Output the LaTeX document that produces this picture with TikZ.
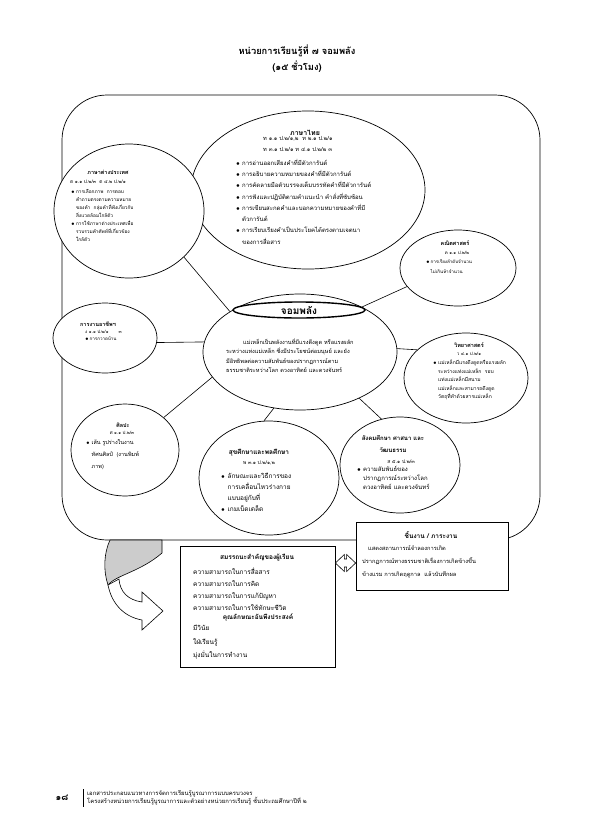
\documentclass[tikz,border=0pt]{standalone}
\usepackage{fontspec}
\newfontfamily\thfont[Script=Thai]{Loma}
\usetikzlibrary{shapes.geometric,calc}
\newcommand\tbul{\makebox[1em][l]{$\bullet$}}
\newcommand\tind{\hspace*{1em}}
\begin{document}
\begin{tikzpicture}[x=1pt,y=-1pt,
  ell/.style={draw,ellipse,fill=white,inner sep=0pt,line width=0.7pt},
  lnk/.style={line width=0.6pt},
  tx/.style 2 args={inner sep=0pt,align=left,font=\thfont\fontsize{#1}{#2}\selectfont},
  hd/.style={inner sep=0pt,align=center,font=\thfont\bfseries\fontsize{#1}{#1}\selectfont},
  cd/.style={inner sep=0pt,align=center,font=\thfont\fontsize{#1}{#1}\selectfont},
  box/.style={draw,fill=white,line width=0.7pt,inner sep=0pt},
]
\useasboundingbox (0,0) rectangle (595,836);
\fill[white] (0,0) rectangle (595,836);

% title
\node[hd=9.3] (title) at (297,51) {หน่วยการเรียนรู้ที่ ๗ จอมพลัง};
\node[hd=9.3] (title2) at (297,67) {(๑๕ ชั่วโมง)};

% frame
\draw[line width=0.7pt, rounded corners=45pt] (62,95) rectangle (540,540);

% ellipses
\node[ell, minimum width=234, minimum height=158] (thai) at (308,190) {};
\node[ell, minimum width=150, minimum height=134] (foreign) at (129,211) {};
\node[ell, minimum width=116, minimum height=76] (math) at (458,268) {};
\node[ell, minimum width=194, minimum height=116] (core) at (300,352) {};
\node[ell, minimum width=104, minimum height=70] (career) at (105,338) {};
\node[ell, minimum width=124, minimum height=90] (sci) at (466,378) {};
\node[ell, minimum width=108, minimum height=92] (art) at (125,450) {};
\node[ell, minimum width=140, minimum height=114] (health) at (269,478) {};
\node[ell, minimum width=120, minimum height=96] (social) at (400,465) {};
\node[ell, line width=1.4pt, minimum width=132, minimum height=16] (corehead) at (299,310) {};

% connectors
\draw[lnk] (core.150) -- (foreign.-40);
\draw[lnk] (core.36) -- (math.200);
\draw[lnk] (core.174) -- (career.-5);
\draw[lnk] (core.2) -- (sci.150);
\draw[lnk] (core.196) -- (art.40);
\draw[lnk] (core.245) -- (health.95);
\draw[lnk] (core.-38) -- (social.112);

% thai
\node[hd=7] (thaih) at (305,133) {ภาษาไทย};
\node[tx={5.6}{11}, anchor=north west] (thaic) at (263,136.5) {ท ๑.๑ ป.๒/๑,๒\ \ ท ๒.๑ ป.๒/๑\\ท ๓.๑ ป.๒/๑ ท ๔.๑ ป.๒/๒ ๓};
\node[tx={6}{11.3}, anchor=north west] (thaib) at (236,158.8) {\tbul การอ่านออกเสียงคำที่มีตัวการันต์\\
\tbul การอธิบายความหมายของคำที่มีตัวการันต์\\
\tbul การคัดลายมือตัวบรรจงเต็มบรรทัดคำที่มีตัวการันต์\\
\tbul การฟังและปฏิบัติตามคำแนะนำ คำสั่งที่ซับซ้อน\\
\tbul การเขียนสะกดคำและบอกความหมายของคำที่มี\\
\tind ตัวการันต์\\
\tbul การเรียบเรียงคำเป็นประโยคได้ตรงตามเจตนา\\
\tind ของการสื่อสาร};

% foreign
\node[hd=5.5] (forh) at (108,172) {ภาษาต่างประเทศ};
\node[tx={4.8}{8}, anchor=north west] (forc) at (70,180) {ต ๑.๑ ป.๒/๓\ \ ต ๔.๒ ป.๒/๑};
\node[tx={4.8}{8.1}, anchor=north west] (forb) at (71,189) {\tbul การเลือกภาพ\ \ การตอบ\\
\tind คำถามตรงตามความหมาย\\
\tind ของคำ\ \ กลุ่มคำที่ฟังเกี่ยวกับ\\
\tind สิ่งแวดล้อมใกล้ตัว\\
\tbul การใช้ภาษาต่างประเทศเพื่อ\\
\tind รวบรวมคำศัพท์ที่เกี่ยวข้อง\\
\tind ใกล้ตัว};

% math
\node[hd=5.5] (mathh) at (455,243) {คณิตศาสตร์};
\node[cd=4.5] (mathc) at (457,253) {ค ๑.๑ ป.๒/๒};
\node[tx={4.5}{10}, anchor=north west] (mathb) at (426,259.5) {\tbul การเรียงลำดับจำนวน\\\tind ไม่เกินห้าจำนวน};

% core
\node[hd=10] (coret) at (299,310) {จอมพลัง};
\node[tx={5.6}{9.3}, anchor=north west] (coreb) at (226,338.6) {\hspace*{17pt}แม่เหล็กเป็นพลังงานที่มีแรงดึงดูด หรือแรงผลัก\\
ระหว่างแท่งแม่เหล็ก ซึ่งมีประโยชน์ต่อมนุษย์ และยัง\\
มีอิทธิพลต่อความสัมพันธ์ของปรากฏการณ์ตาม\\
ธรรมชาติระหว่างโลก ดวงอาทิตย์ และดวงจันทร์};

% career
\node[hd=5.5] (carh) at (98,324) {การงานอาชีพฯ};
\node[tx={4.5}{7}, anchor=north west] (carb) at (85,330) {ง ๑.๑ ป.๒/๑\hspace{10pt}๓\\\tbul การกวาดบ้าน};

% science
\node[hd=5.5] (scih) at (469,345) {วิทยาศาสตร์};
\node[cd=4.5] (scic) at (469,354) {ว ๔.๑ ป.๒/๑};
\node[tx={5}{8.5}, anchor=north west] (scib) at (433,360) {\tbul แม่เหล็กมีแรงดึงดูดหรือแรงผลัก\\
\tind ระหว่างแท่งแม่เหล็ก\ \ รอบ\\
\tind แท่งแม่เหล็กมีสนาม\\
\tind แม่เหล็กและสามารถดึงดูด\\
\tind วัตถุที่ทำด้วยสารแม่เหล็ก};

% art
\node[hd=5.5] (arth) at (123,425) {ศิลปะ};
\node[cd=4.5] (artc) at (122,433) {ศ ๑.๑ ป.๒/๓};
\node[tx={5.5}{12}, anchor=north west] (artb) at (86,439.7) {\tbul เส้น รูปร่างในงาน\\
\tind ทัศนศิลป์\ \ (งานพิมพ์\\
\tind ภาพ)};

% health
\node[hd=6.5] (heah) at (259,453) {สุขศึกษาและพลศึกษา};
\node[cd=5] (heac) at (259,463) {พ ๓.๑ ป.๒/๑,๒};
\node[tx={6.5}{11}, anchor=north west] (heab) at (221,473) {\tbul ลักษณะและวิธีการของ\\
\tind การเคลื่อนไหวร่างกาย\\
\tind แบบอยู่กับที่\\
\tbul เกมเบ็ดเตล็ด};

% social
\node[hd=6, align=center, font=\thfont\bfseries\fontsize{6}{12}\selectfont] (soch) at (393,444) {สังคมศึกษา ศาสนา และ\\วัฒนธรรม};
\node[cd=5] (socc) at (401,462) {ส ๕.๑ ป.๒/๓};
\node[tx={6}{9}, anchor=north west] (socb) at (357,466.5) {\tbul ความสัมพันธ์ของ\\
\tind ปรากฏการณ์ระหว่างโลก\\
\tind ดวงอาทิตย์ และดวงจันทร์};

% boxes
\node[box, minimum width=155, minimum height=121] (comp) at (257.5,606.5) {};
\node[box, minimum width=152, minimum height=68] (work) at (432,556) {};

\node[hd=6.5] (comph) at (257,558) {สมรรถนะสำคัญของผู้เรียน};
\node[tx={6.5}{12}, anchor=north west] (compl) at (193,568) {ความสามารถในการสื่อสาร\\
ความสามารถในการคิด\\
ความสามารถในการแก้ปัญหา\\
ความสามารถในการใช้ทักษะชีวิต};
\node[hd=6.5] (charh) at (258,617) {คุณลักษณะอันพึงประสงค์};
\node[tx={6.5}{13.5}, anchor=north west] (charl) at (193,625) {มีวินัย\\
ใฝ่เรียนรู้\\
มุ่งมั่นในการทำงาน};

\node[hd=6.5] (workh) at (431,535) {ชิ้นงาน / ภาระงาน};
\node[tx={5.7}{13}, anchor=north west] (workb) at (362,545.6) {\hspace*{6pt}แสดงสถานการณ์จำลองการเกิด\\
ปรากฏการณ์ทางธรรมชาติเรื่องการเกิดข้างขึ้น\\
ข้างแรม การเกิดฤดูกาล\ \ แล้วบันทึกผล};

% double arrow between boxes
\coordinate (dby) at (0,563);
\coordinate (dl) at (comp.east |- dby);
\coordinate (dr) at (work.west |- dby);
\draw[line width=0.6pt, fill=white] (dl) -- ++(9,-8.5) -- ++(0,4.5) -- ($(dr)+(-9,-4)$) -- ++(0,-4.5) -- (dr)
  -- ++(-9,8.5) -- ++(0,-4.5) -- ($(dl)+(9,4)$) -- ++(0,4.5) -- cycle;

% curved arrow
\draw[line width=0.6pt, fill=gray!40] (110,540) -- (162,540) -- (162,553)
  .. controls (140,572) and (116,575) .. (108,585)
  .. controls (103,570) and (104,553) .. (110,540) -- cycle;
\draw[line width=0.6pt, fill=white] (108,585) .. controls (112,605) and (125,617) .. (142,620)
  -- (142,630) -- (163,611) -- (142,592) -- (142,602)
  .. controls (128,600) and (120,592) .. (119,579) -- cycle;

% footer
\node[hd=9] (pgno) at (62,798) {๑๘};
\draw[line width=0.8pt] (83,789) -- (83,807);
\node[tx={5.9}{8}, anchor=north west] (foot) at (87,790) {เอกสารประกอบแนวทางการจัดการเรียนรู้บูรณาการแบบครบวงจร\\
โครงสร้างหน่วยการเรียนรู้บูรณาการและตัวอย่างหน่วยการเรียนรู้ ชั้นประถมศึกษาปีที่ ๒};
\end{tikzpicture}
\end{document}
